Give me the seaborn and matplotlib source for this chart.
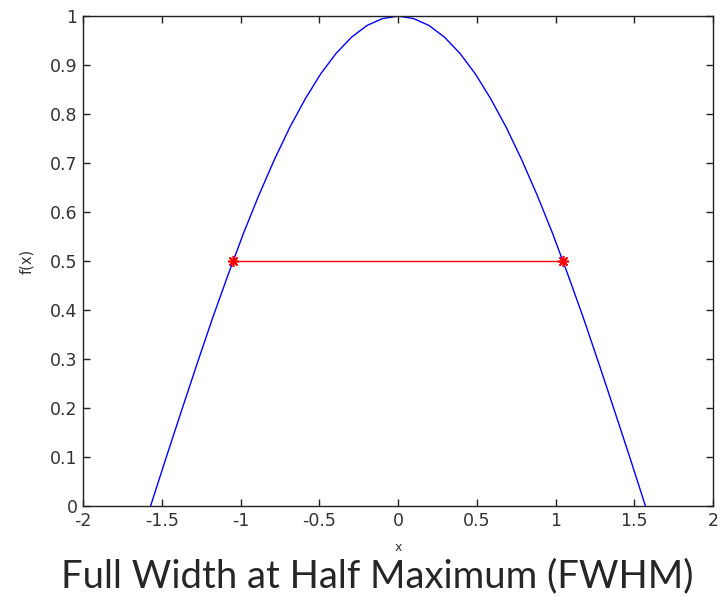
import pandas as pd
import seaborn as sns
import matplotlib.pyplot as plt

# curve f(x)
x_vals = [-1.571, -1.473, -1.374, -1.276, -1.178, -1.080, -0.982, -0.884, -0.785,
          -0.687, -0.589, -0.491, -0.393, -0.295, -0.196, -0.098, 0.0,
          0.098, 0.196, 0.295, 0.393, 0.491, 0.589, 0.687, 0.785,
          0.884, 0.982, 1.080, 1.178, 1.276, 1.374, 1.473, 1.571]
f_vals = [0.000, 0.098, 0.195, 0.290, 0.383, 0.471, 0.556, 0.634, 0.707,
          0.773, 0.831, 0.882, 0.924, 0.957, 0.981, 0.995, 1.000,
          0.995, 0.981, 0.957, 0.924, 0.882, 0.831, 0.773, 0.707,
          0.634, 0.556, 0.471, 0.383, 0.290, 0.195, 0.098, 0.000]

# half maximum segment
half_x = [-1.047, 1.047]
half_y = [0.5, 0.5]

x_ticks = [-2, -1.5, -1, -0.5, 0, 0.5, 1, 1.5, 2]
x_ticklabels = ['-2', '-1.5', '-1', '-0.5', '0', '0.5', '1', '1.5', '2']
y_ticks = [0, 0.1, 0.2, 0.3, 0.4, 0.5, 0.6, 0.7, 0.8, 0.9, 1]
y_ticklabels = ['0', '0.1', '0.2', '0.3', '0.4', '0.5', '0.6', '0.7', '0.8', '0.9', '1']

sns.set_style('ticks')
plt.rcParams['font.family'] = ['DejaVu Sans']

curve = pd.DataFrame({'x': x_vals, 'f': f_vals})
half = pd.DataFrame({'x': half_x, 'f': half_y})

fig = plt.figure(figsize=(7.2, 5.96), dpi=100)
ax = fig.add_axes([0.1153, 0.151, 0.875, 0.822])

sns.lineplot(data=curve, x='x', y='f', sort=False, color='#0000ff', lw=1, ax=ax)
sns.lineplot(data=half, x='x', y='f', sort=False, color='#ff0000', lw=1,
             marker=(8, 2, 0), markersize=8, markeredgewidth=1.2,
             markeredgecolor='#ff0000', ax=ax)

ax.set_xlim(-2, 2)
ax.set_ylim(0, 1)
ax.set_xticks(x_ticks)
ax.set_xticklabels(x_ticklabels)
ax.set_yticks(y_ticks)
ax.set_yticklabels(y_ticklabels)
ax.tick_params(direction='in', length=5, width=1, top=True, right=True,
               labelsize=12.5, labelcolor='#333333', color='#222222', pad=4)
for s in ax.spines.values():
    s.set_linewidth(1)
    s.set_color('#222222')
    s.set_visible(True)

ax.set_xlabel('x', fontsize=9, labelpad=8, color='#333333')
ax.set_ylabel('f(x)', fontsize=10.5, labelpad=11, color='#333333')

fig.text(0.524, 0.033, 'Full Width at Half Maximum (FWHM)', ha='center', va='center',
         fontsize=27.5, family=['Lato', 'DejaVu Sans'])

fig.savefig('out.png', dpi=100)
